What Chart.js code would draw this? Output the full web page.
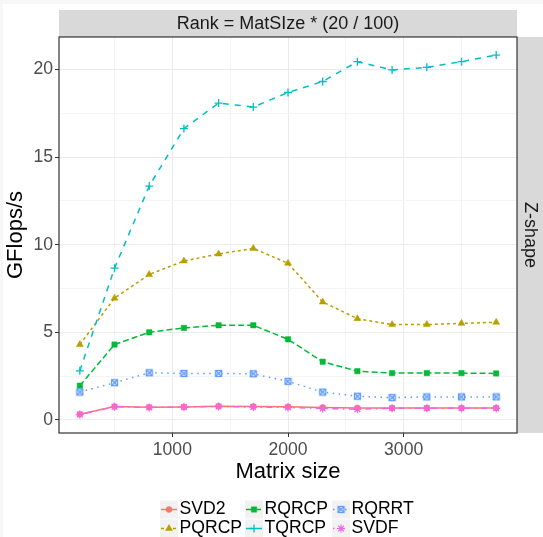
<!DOCTYPE html>
<html>
<head>
<meta charset="utf-8">
<script src="https://cdn.jsdelivr.net/npm/chart.js@4.4.0/dist/chart.umd.min.js"></script>
<style>
  html, body { margin: 0; padding: 0; background: #fff; }
  #wrap { width: 543px; height: 537px; }
</style>
</head>
<body>
<div id="wrap"><canvas id="resultChart" width="543" height="537"></canvas></div>
<script>
// Values (GFlops/s per matrix size)
const matrixSizes = [200, 500, 800, 1100, 1400, 1700, 2000, 2300, 2600, 2900, 3200, 3500, 3800];
const svd2  = [0.32, 0.76, 0.72, 0.74, 0.78, 0.77, 0.75, 0.71, 0.68, 0.68, 0.68, 0.68, 0.68];
const pqrcp = [4.30, 6.95, 8.30, 9.07, 9.47, 9.79, 8.94, 6.73, 5.78, 5.44, 5.44, 5.51, 5.57];
const rqrcp = [1.95, 4.30, 5.00, 5.25, 5.40, 5.40, 4.60, 3.32, 2.78, 2.67, 2.67, 2.67, 2.65];
const tqrcp = [2.80, 8.66, 13.35, 16.63, 18.09, 17.86, 18.69, 19.32, 20.45, 19.98, 20.13, 20.45, 20.83];
const rqrrt = [1.59, 2.12, 2.69, 2.65, 2.65, 2.63, 2.20, 1.59, 1.35, 1.27, 1.31, 1.31, 1.31];
const svdf  = [0.30, 0.75, 0.71, 0.73, 0.77, 0.73, 0.71, 0.65, 0.61, 0.66, 0.66, 0.66, 0.66];

const xMajorTicks = [1000, 2000, 3000];
const xMinorTicks = [500, 1500, 2500, 3500];
const yMajorTicks = [0, 5, 10, 15, 20];
const yMinorTicks = [2.5, 7.5, 12.5, 17.5];

const stripTop = "Rank = MatSIze * (20 / 100)";
const stripRight = "Z-shape";
const legendOrder = ['SVD2', 'RQRCP', 'RQRRT', 'PQRCP', 'TQRCP', 'SVDF'];

const FONT = '"Liberation Sans", Arial, sans-serif';
Chart.defaults.font.family = FONT;

// open square with a cross inside (ggplot shape 7)
function boxCross(color) {
  const c = document.createElement('canvas');
  c.width = 9; c.height = 9;
  const g = c.getContext('2d');
  g.strokeStyle = color;
  g.lineWidth = 1.3;
  g.strokeRect(1.5, 1.5, 6, 6);
  g.beginPath();
  g.moveTo(1.5, 1.5); g.lineTo(7.5, 7.5);
  g.moveTo(7.5, 1.5); g.lineTo(1.5, 7.5);
  g.stroke();
  return c;
}

let drawIdx = 0;
function series(label, values, color, dash, style, radius, pbw) {
  drawIdx++;
  return {
    label: label,
    data: matrixSizes.map((x, i) => ({ x: x, y: values[i] })),
    borderColor: color,
    backgroundColor: color,
    borderWidth: 1.5,
    borderDash: dash,
    pointStyle: style,
    pointRadius: radius,
    pointBorderWidth: pbw,
    pointBackgroundColor: color,
    pointBorderColor: color,
    tension: 0,
    order: 10 - drawIdx
  };
}

const datasets = [
  series('SVD2',  svd2,  '#F8766D', [],              'circle',   3,   0.5),
  series('PQRCP', pqrcp, '#B79F00', [3, 3],          'triangle', 4,   0.5),
  series('RQRCP', rqrcp, '#00BA38', [6, 3],          'rect',     3.8, 0.5),
  series('TQRCP', tqrcp, '#00BFC4', [6, 6],          'cross',    4,   1.3),
  series('RQRRT', rqrrt, '#619CFF', [1.5, 4.5],      boxCross('#619CFF'), 4, 1),
  series('SVDF',  svdf,  '#F564E3', [1.5, 4.5, 6, 4.5], 'star',  4,   1.2)
];

function drawMarker(ctx, ds, x, y) {
  ctx.fillStyle = ds.pointBackgroundColor;
  ctx.strokeStyle = ds.pointBorderColor;
  ctx.lineWidth = ds.pointBorderWidth;
  if (Chart.helpers && Chart.helpers.drawPoint) {
    Chart.helpers.drawPoint(ctx, {
      pointStyle: ds.pointStyle, radius: ds.pointRadius, rotation: 0, borderWidth: ds.pointBorderWidth
    }, x, y);
  } else {
    ctx.beginPath();
    ctx.arc(x, y, 3, 0, Math.PI * 2);
    ctx.fill();
  }
}

const facetPlugin = {
  id: 'facet',
  beforeDraw(chart) {
    const { ctx, width, height } = chart;
    ctx.save();
    ctx.fillStyle = '#ffffff';
    ctx.fillRect(0, 0, width, height);
    ctx.fillStyle = '#f7f7f7';
    ctx.fillRect(0, 0, width, 4);
    ctx.fillRect(0, 0, 3, height);
    ctx.restore();
  },
  afterDraw(chart) {
    const { ctx, chartArea: a } = chart;

    // strips
    ctx.save();
    ctx.fillStyle = '#d9d9d9';
    ctx.fillRect(a.left, 10, a.right - a.left, a.top - 10);
    ctx.fillRect(a.right, a.top, chart.width - a.right, a.bottom - a.top);
    ctx.fillStyle = '#1a1a1a';
    ctx.font = '18px ' + FONT;
    ctx.textAlign = 'center';
    ctx.textBaseline = 'middle';
    ctx.fillText(stripTop, (a.left + a.right) / 2, 24.5);
    ctx.translate(a.right + 13, (a.top + a.bottom) / 2);
    ctx.rotate(Math.PI / 2);
    ctx.fillText(stripRight, 0, 0);
    ctx.restore();

    // panel border
    ctx.save();
    ctx.strokeStyle = '#333333';
    ctx.lineWidth = 1.2;
    ctx.strokeRect(a.left, a.top, a.right - a.left, a.bottom - a.top);
    ctx.restore();

    // legend (ggplot style, 3 columns x 2 rows)
    const keyX = [160, 245, 332];
    const rowY = [509.5, 528.5];
    ctx.save();
    legendOrder.forEach((name, i) => {
      const ds = chart.data.datasets.find(d => d.label === name);
      const x0 = keyX[i % 3];
      const yc = rowY[Math.floor(i / 3)];
      ctx.fillStyle = '#f2f2f2';
      ctx.fillRect(x0, yc - 9, 18, 18);
      ctx.strokeStyle = ds.borderColor;
      ctx.lineWidth = ds.borderWidth;
      ctx.setLineDash(ds.borderDash);
      ctx.beginPath();
      ctx.moveTo(x0 + 1, yc);
      ctx.lineTo(x0 + 17, yc);
      ctx.stroke();
      ctx.setLineDash([]);
      drawMarker(ctx, ds, x0 + 9, yc);
      ctx.fillStyle = '#000000';
      ctx.font = '17.6px ' + FONT;
      ctx.textAlign = 'left';
      ctx.textBaseline = 'middle';
      ctx.fillText(name, x0 + 19.5, yc);
    });
    ctx.restore();
  }
};

const gridColor = (majors) => (c) => (c.tick && majors.includes(c.tick.value)) ? '#ebebeb' : '#f4f4f4';
const tickColor = (majors) => (c) => (c.tick && majors.includes(c.tick.value)) ? '#333333' : 'rgba(0,0,0,0)';

const ctx = document.getElementById('resultChart').getContext('2d');

const chart = new Chart(ctx, {
  type: 'line',
  data: { datasets: datasets },
  plugins: [facetPlugin],
  options: {
    responsive: false,
    animation: false,
    devicePixelRatio: 1,
    layout: { padding: { top: 37, right: 26, bottom: 52, left: 0 } },
    plugins: {
      legend: { display: false },
      tooltip: { enabled: false }
    },
    scales: {
      x: {
        type: 'linear',
        min: 20,
        max: 3980,
        afterBuildTicks: s => {
          s.ticks = xMinorTicks.concat(xMajorTicks).sort((p, q) => p - q).map(v => ({ value: v }));
        },
        afterFit: s => { s.height = 52; },
        border: { display: false },
        grid: {
          color: gridColor(xMajorTicks),
          lineWidth: 1,
          tickLength: 4,
          tickColor: tickColor(xMajorTicks),
          tickWidth: 1
        },
        ticks: {
          autoSkip: false,
          maxRotation: 0,
          padding: 3,
          color: '#4d4d4d',
          font: { size: 17.6 },
          callback: v => xMajorTicks.includes(v) ? String(v) : ''
        },
        title: {
          display: true,
          text: 'Matrix size',
          color: '#000000',
          font: { size: 22 },
          padding: { top: 0, bottom: 0 }
        }
      },
      y: {
        type: 'linear',
        min: -0.75,
        max: 21.86,
        afterBuildTicks: s => {
          s.ticks = yMinorTicks.concat(yMajorTicks).sort((p, q) => p - q).map(v => ({ value: v }));
        },
        afterFit: s => { s.width = 59; },
        border: { display: false },
        grid: {
          color: gridColor(yMajorTicks),
          lineWidth: 1,
          tickLength: 4,
          tickColor: tickColor(yMajorTicks),
          tickWidth: 1
        },
        ticks: {
          autoSkip: false,
          padding: 2,
          color: '#4d4d4d',
          font: { size: 17.6 },
          callback: v => yMajorTicks.includes(v) ? String(v) : ''
        },
        title: {
          display: true,
          text: 'GFlops/s',
          color: '#000000',
          font: { size: 22 },
          padding: { top: 3, bottom: 0 }
        }
      }
    }
  }
});
</script>
</body>
</html>
